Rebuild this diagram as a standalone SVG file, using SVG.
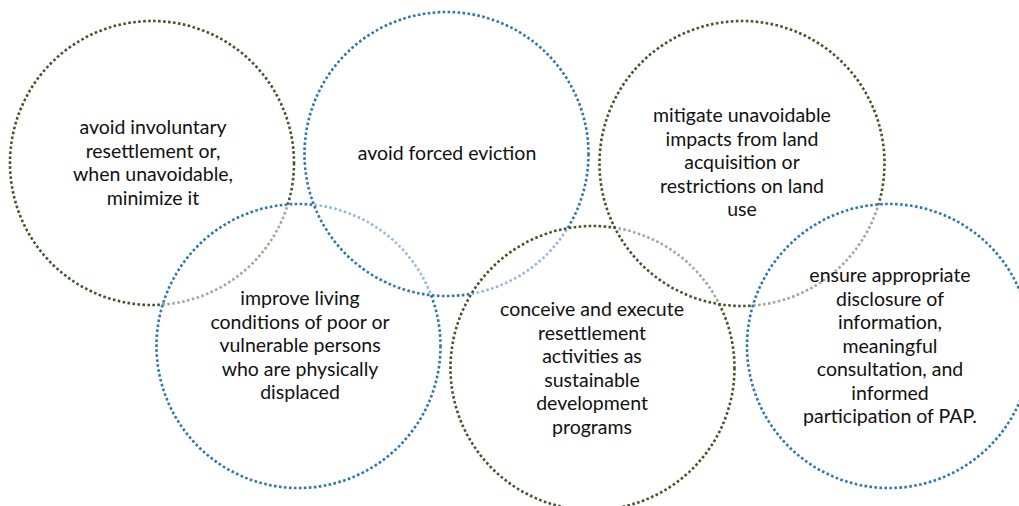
<svg xmlns="http://www.w3.org/2000/svg" width="1019" height="506" viewBox="0 0 1019 506">
<style>
.c{fill:#ffffff;fill-opacity:0.5;stroke-width:2.6;stroke-dasharray:2.6 2.4}
.g{stroke:#3b5a25}
.b{stroke:#2e75b6}
text{font-family:Lato,"Liberation Sans",sans-serif;font-size:19.5px;fill:#111;text-anchor:middle}
</style>
<rect width="1019" height="506" fill="#ffffff"/>
<g id="node1">
<circle class="c g" cx="152" cy="163" r="142"/>
<text x="153"><tspan x="153" y="134">avoid involuntary</tspan><tspan x="153" y="157.5">resettlement or,</tspan><tspan x="153" y="181">when unavoidable,</tspan><tspan x="153" y="204.5">minimize it</tspan></text>
</g>
<g id="node4">
<circle class="c b" cx="298.5" cy="346" r="142"/>
<text><tspan x="300" y="305">improve living</tspan><tspan x="300" y="328.5">conditions of poor or</tspan><tspan x="300" y="352">vulnerable persons</tspan><tspan x="300" y="375.5">who are physically</tspan><tspan x="300" y="399">displaced</tspan></text>
</g>
<g id="node2">
<circle class="c b" cx="446.5" cy="154" r="142"/>
<text x="447" y="160">avoid forced eviction</text>
</g>
<g id="node5">
<circle class="c g" cx="592.5" cy="368" r="142"/>
<text><tspan x="592" y="316">conceive and execute</tspan><tspan x="592" y="339.5">resettlement</tspan><tspan x="592" y="363">activities as</tspan><tspan x="592" y="386.5">sustainable</tspan><tspan x="592" y="410">development</tspan><tspan x="592" y="433.5">programs</tspan></text>
</g>
<g id="node3">
<circle class="c g" cx="742" cy="163.5" r="142.5"/>
<text><tspan x="742" y="122">mitigate unavoidable</tspan><tspan x="742" y="145.5">impacts from land</tspan><tspan x="742" y="169">acquisition or</tspan><tspan x="742" y="192.5">restrictions on land</tspan><tspan x="742" y="216">use</tspan></text>
</g>
<g id="node6">
<circle class="c b" cx="889" cy="346" r="142"/>
<text><tspan x="890" y="282">ensure appropriate</tspan><tspan x="890" y="305.5">disclosure of</tspan><tspan x="890" y="329">information,</tspan><tspan x="890" y="352.5">meaningful</tspan><tspan x="890" y="376">consultation, and</tspan><tspan x="890" y="399.5">informed</tspan><tspan x="890" y="423">participation of PAP.</tspan></text>
</g>
<g id="connectors"></g>
</svg>
